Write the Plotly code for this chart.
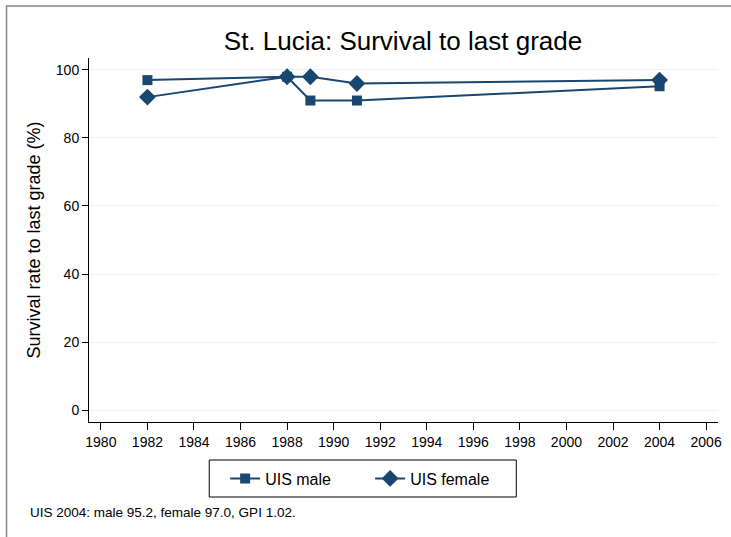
import plotly.graph_objects as go

years_male = [1982, 1988, 1989, 1991, 2004]
male = [97.0, 98.0, 91.0, 91.0, 95.2]
years_female = [1982, 1988, 1989, 1991, 2004]
female = [92.0, 98.0, 98.0, 96.0, 97.0]
x_ticks = list(range(1980, 2007, 2))
y_ticks = [0, 20, 40, 60, 80, 100]

NAVY = "#1a476f"
FONT = "Liberation Sans, Arial, sans-serif"

W, H = 731, 537
L, R, T, B = 89, 9, 58, 115
pw, ph = W - L - R, H - T - B

fig = go.Figure()
fig.add_trace(go.Scatter(x=years_male, y=male, mode="lines+markers", name="UIS male",
                         line=dict(color=NAVY, width=2),
                         marker=dict(symbol="square", size=10, color=NAVY)))
fig.add_trace(go.Scatter(x=years_female, y=female, mode="lines+markers", name="UIS female",
                         line=dict(color=NAVY, width=2),
                         marker=dict(symbol="diamond", size=13, color=NAVY)))

def px_x(p):
    return (p - L) / pw

def px_y(p):
    return (H - B - p) / ph

fig.update_layout(
    width=W, height=H,
    margin=dict(l=L, r=R, t=T, b=B),
    paper_bgcolor="white", plot_bgcolor="white",
    font=dict(family=FONT, size=14, color="black"),
    title=dict(text="St. Lucia: Survival to last grade", x=403 / W, xref="container",
               xanchor="center", y=1 - 41 / H, yref="container", yanchor="middle",
               font=dict(size=26, color="black")),
    xaxis=dict(range=[1979.49, 2006.51], tickvals=x_ticks, ticktext=[str(v) for v in x_ticks],
               showgrid=False, zeroline=False, showline=True, linecolor="black", linewidth=1,
               ticks="outside", ticklen=7, tickcolor="black", tickfont=dict(size=14)),
    yaxis=dict(range=[-3.5, 103.5], tickvals=y_ticks, showgrid=True, gridcolor="#eaf2f3",
               gridwidth=1, zeroline=False, showline=True, linecolor="black", linewidth=1,
               ticks="outside", ticklen=6, tickcolor="black", tickfont=dict(size=14),
               title=dict(text="Survival rate to last grade (%)", font=dict(size=18), standoff=10)),
    legend=dict(orientation="h", x=px_x(226), y=px_y(478.5), xanchor="left", yanchor="middle",
                borderwidth=0, font=dict(size=16), bgcolor="rgba(0,0,0,0)",
                itemwidth=30, entrywidth=100, tracegroupgap=0),
    showlegend=True,
)

fig.add_annotation(text="UIS 2004: male 95.2, female 97.0, GPI 1.02.", xref="paper", yref="paper",
                   x=px_x(28), y=px_y(512), xanchor="left", yanchor="middle", showarrow=False,
                   font=dict(size=13.5, color="black"))

fig.add_shape(type="rect", xref="paper", yref="paper", x0=px_x(210), y0=px_y(460), x1=px_x(519), y1=px_y(497),
              line=dict(color="black", width=1), fillcolor="rgba(0,0,0,0)", layer="below")

fig.add_shape(type="rect", xref="paper", yref="paper", x0=px_x(6), y0=px_y(6), x1=px_x(760), y1=px_y(560),
              line=dict(color="#888888", width=1.5), fillcolor="rgba(0,0,0,0)", layer="below")

fig.write_html("out.html", post_script="document.body.style.margin='0';",
               config={"displayModeBar": False})
